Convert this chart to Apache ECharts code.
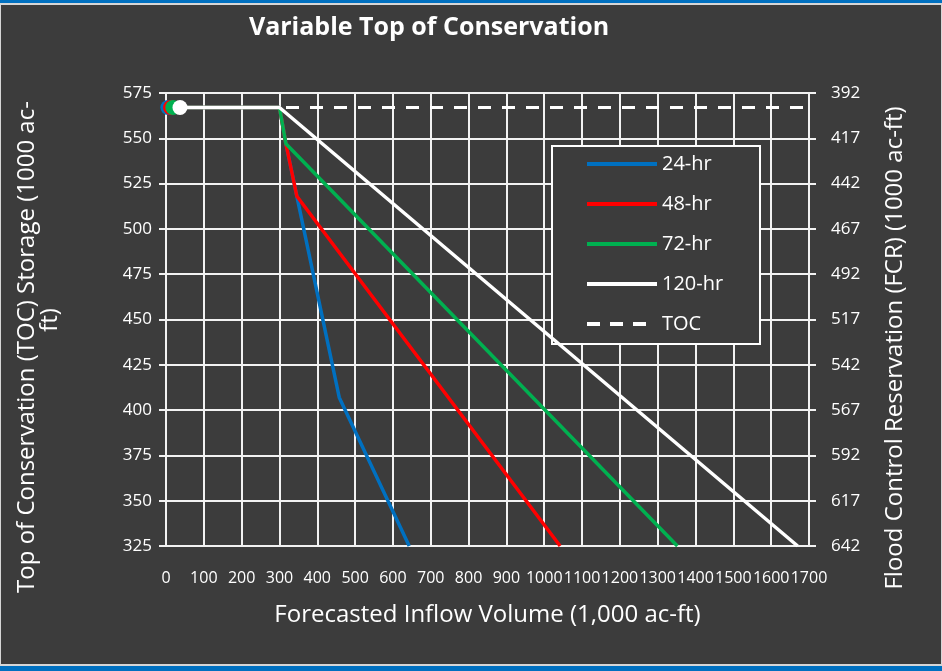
<!DOCTYPE html>
<html>
<head>
<meta charset="utf-8">
<title>Variable Top of Conservation</title>
<script src="https://cdn.jsdelivr.net/npm/echarts@6/dist/echarts.min.js"></script>
<style>
  html, body { margin: 0; padding: 0; background: #0070c0; }
  #frame {
    position: absolute; left: 0; top: 3px; width: 942px; height: 663px;
    box-sizing: border-box; border: 1px solid #d6d6d6; border-width: 2px 1px 2px 1px;
    background: #3c3c3c;
  }
  #chart { position: absolute; left: 0; top: 0; width: 942px; height: 671px; }
</style>
</head>
<body>
<div id="frame"></div>
<div id="chart"></div>
<script>
// Forecasted inflow volume (1,000 ac-ft) and top-of-conservation storage (1,000 ac-ft)
const x24 = [5, 300, 317, 346, 458, 643];
const y24 = [567, 567, 547, 518, 407, 325];
const x48 = [12, 300, 317, 346, 1042];
const y48 = [567, 567, 547, 518, 325];
const x72 = [18, 300, 317, 1352];
const y72 = [567, 567, 547, 325];
const x120 = [37, 300, 1670];
const y120 = [567, 567, 325];
const xToc = [0, 1700];
const yToc = [567, 567];

// Flood control reservation labels for the right axis, bottom to top
const fcrTicks = [642, 617, 592, 567, 542, 517, 492, 467, 442, 417, 392];

const names = ['24-hr', '48-hr', '72-hr', '120-hr', 'TOC'];
const colors = ['#0070c0', '#ff0000', '#00b050', '#ffffff', '#ffffff'];

const FONT = '"Open Sans", sans-serif';
const TXT = '#ffffff';

// Legend swatches: a solid bar for the forecast curves, three dashes for TOC
const SOLID_ICON = 'path://M0,0h70v4h-70z';
const DASH_ICON = 'path://M0,0h13v4h-13z M23,0h13v4h-13z M46,0h13v4h-13z M70,0L70,4L70,4Z';

function pairs(xs, ys, color) {
  return xs.map((x, i) => i === 0
    ? { value: [x, ys[i]], symbol: 'circle', symbolSize: 15, itemStyle: { color: color } }
    : { value: [x, ys[i]], symbol: 'none' });
}

const chart = echarts.init(document.getElementById('chart'), null, { renderer: 'canvas' });

const lineSeries = [
  [x24, y24], [x48, y48], [x72, y72], [x120, y120]
].map(([xs, ys], i) => ({
  name: names[i],
  type: 'line',
  data: pairs(xs, ys, colors[i]),
  symbol: 'none',
  showSymbol: true,
  lineStyle: { color: colors[i], width: 3.5 },
  itemStyle: { color: colors[i] },
  z: 3 + i,
  silent: true
}));

chart.setOption({
  animation: false,
  backgroundColor: 'transparent',
  textStyle: { fontFamily: FONT, color: TXT },
  grid: { left: 166, right: 133, top: 93, bottom: 125, containLabel: false },
  xAxis: {
    type: 'value', min: 0, max: 1700, interval: 100,
    name: 'Forecasted Inflow Volume (1,000 ac-ft)',
    nameLocation: 'middle', nameGap: 57,
    nameTextStyle: { color: TXT, fontSize: 24, fontFamily: FONT },
    axisLine: { show: true, lineStyle: { color: '#f2f2f2', width: 2 } },
    axisTick: { show: false },
    axisLabel: {
      color: TXT, fontSize: 16, fontFamily: FONT, margin: 24, hideOverlap: false,
      showMinLabel: true, showMaxLabel: true,
      formatter: v => String(v)
    },
    splitLine: { show: true, lineStyle: { color: '#f2f2f2', width: 2 } }
  },
  yAxis: [
    {
      type: 'value', min: 325, max: 575, interval: 25, position: 'left',
      axisLine: { show: true, onZero: false, lineStyle: { color: '#f2f2f2', width: 2 } },
      axisTick: { show: true, inside: false, length: 7, lineStyle: { color: '#f2f2f2', width: 2 } },
      axisLabel: { color: TXT, fontSize: 17, fontFamily: FONT, margin: 14, showMinLabel: true, showMaxLabel: true },
      splitLine: { show: true, lineStyle: { color: '#f2f2f2', width: 2 } }
    },
    {
      type: 'value', min: 325, max: 575, interval: 25, position: 'right',
      axisLine: { show: true, onZero: false, lineStyle: { color: '#f2f2f2', width: 2 } },
      axisTick: { show: true, inside: false, length: 7, lineStyle: { color: '#f2f2f2', width: 2 } },
      axisLabel: {
        color: TXT, fontSize: 17, fontFamily: FONT, margin: 22,
        showMinLabel: true, showMaxLabel: true,
        formatter: v => String(fcrTicks[Math.round((v - 325) / 25)])
      },
      splitLine: { show: false }
    }
  ],
  legend: {
    orient: 'vertical', left: 587, top: 154,
    data: names.map((n, i) => ({
      name: n,
      icon: n === 'TOC' ? DASH_ICON : SOLID_ICON,
      itemStyle: { color: colors[i] }
    })),
    itemWidth: 70, itemHeight: 4, itemGap: 20,
    padding: 0,
    textStyle: { color: TXT, fontSize: 20, fontFamily: FONT, lineHeight: 20 },
    selectedMode: false
  },
  graphic: [
    {
      type: 'rect', left: 551, top: 145, z: 1,
      shape: { width: 208, height: 198 },
      style: { fill: '#3c3c3c', stroke: '#ffffff', lineWidth: 2 }
    },
    {
      type: 'text', x: 429, y: 28,
      style: { text: 'Variable Top of Conservation', fill: TXT, font: 'bold 25px ' + FONT, align: 'center', verticalAlign: 'middle' }
    },
    {
      type: 'text', x: 27, y: 347, rotation: Math.PI / 2,
      style: { text: 'Top of Conservation (TOC) Storage (1000 ac-', fill: TXT, font: '24px ' + FONT, align: 'center', verticalAlign: 'middle' }
    },
    {
      type: 'text', x: 50, y: 320, rotation: Math.PI / 2,
      style: { text: 'ft)', fill: TXT, font: '24px ' + FONT, align: 'center', verticalAlign: 'middle' }
    },
    {
      type: 'text', x: 895, y: 348, rotation: Math.PI / 2,
      style: { text: 'Flood Control Reservation (FCR) (1000 ac-ft)', fill: TXT, font: '24px ' + FONT, align: 'center', verticalAlign: 'middle' }
    }
  ],
  series: [
    {
      name: 'TOC',
      type: 'line',
      data: xToc.map((x, i) => [x, yToc[i]]),
      symbol: 'none',
      lineStyle: { color: '#ffffff', width: 3, type: [13, 11] },
      itemStyle: { color: '#ffffff' },
      z: 2,
      silent: true
    }
  ].concat(lineSeries)
});
</script>
</body>
</html>
